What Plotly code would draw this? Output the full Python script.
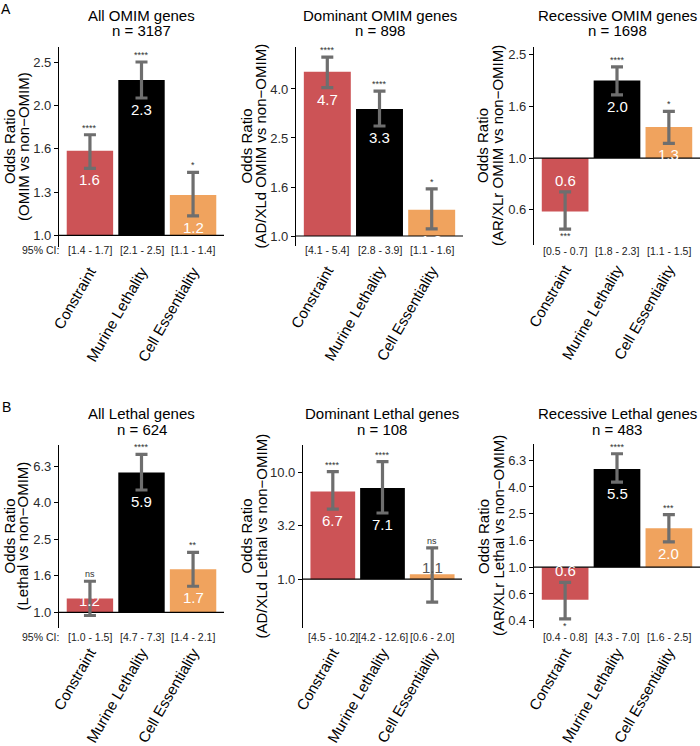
import math
import plotly.graph_objects as go

# categories shared by every panel
categories = ["Constraint", "Murine Lethality", "Cell Essentiality"]
bar_colors = ["#CC5356", "#000000", "#F0A35E"]

# panel A: OMIM genes
a1_title = ["All OMIM genes", "n = 3187"]
a1_ytitle = ["Odds Ratio", "(OMIM vs non\u2212OMIM)"]
a1_or = [1.57, 2.29, 1.24]
a1_lo = [1.43, 2.08, 1.11]
a1_hi = [1.71, 2.52, 1.40]
a1_lab = ["1.6", "2.3", "1.2"]
a1_sig = ["****", "****", "*"]
a1_ci = ["[1.4 - 1.7]", "[2.1 - 2.5]", "[1.1 - 1.4]"]
a1_tickvals = [1.0, 1.26, 1.587, 2.0, 2.52]
a1_ticktext = ["1.0", "1.3", "1.6", "2.0", "2.5"]

a2_title = ["Dominant OMIM genes", "n = 898"]
a2_ytitle = ["Odds Ratio", "(AD/XLd OMIM vs non\u2212OMIM)"]
a2_or = [4.70, 3.31, 1.28]
a2_lo = [4.05, 2.82, 1.07]
a2_hi = [5.40, 3.92, 1.56]
a2_lab = ["4.7", "3.3", "1.3"]
a2_sig = ["****", "****", "*"]
a2_ci = ["[4.1 - 5.4]", "[2.8 - 3.9]", "[1.1 - 1.6]"]
a2_tickvals = [1.0, 1.587, 2.52, 4.0]
a2_ticktext = ["1.0", "1.6", "2.5", "4.0"]

a3_title = ["Recessive OMIM genes", "n = 1698"]
a3_ytitle = ["Odds Ratio", "(AR/XLr OMIM vs non\u2212OMIM)"]
a3_or = [0.62, 2.00, 1.32]
a3_lo = [0.53, 1.76, 1.14]
a3_hi = [0.74, 2.26, 1.52]
a3_lab = ["0.6", "2.0", "1.3"]
a3_sig = ["***", "****", "*"]
a3_ci = ["[0.5 - 0.7]", "[1.8 - 2.3]", "[1.1 - 1.5]"]
a3_tickvals = [0.63, 1.0, 1.587, 2.52]
a3_ticktext = ["0.6", "1.0", "1.6", "2.5"]

# panel B: lethal genes
b1_title = ["All Lethal genes", "n = 624"]
b1_ytitle = ["Odds Ratio", "(Lethal vs non\u2212OMIM)"]
b1_or = [1.19, 5.85, 1.72]
b1_lo = [0.96, 4.69, 1.39]
b1_hi = [1.48, 7.35, 2.13]
b1_lab = ["1.2", "5.9", "1.7"]
b1_sig = ["ns", "****", "**"]
b1_ci = ["[1.0 - 1.5]", "[4.7 - 7.3]", "[1.4 - 2.1]"]
b1_tickvals = [1.0, 1.587, 2.52, 4.0, 6.35]
b1_ticktext = ["1.0", "1.6", "2.5", "4.0", "6.3"]

b2_title = ["Dominant Lethal genes", "n = 108"]
b2_ytitle = ["Odds Ratio", "(AD/XLd Lethal vs non\u2212OMIM)"]
b2_or = [6.6, 7.1, 1.11]
b2_lo = [4.5, 4.15, 0.61]
b2_hi = [10.1, 12.5, 1.96]
b2_lab = ["6.7", "7.1", "1.1"]
b2_sig = ["****", "****", "ns"]
b2_ci = ["[4.5 - 10.2]", "[4.2 - 12.6]", "[0.6 - 2.0]"]
b2_tickvals = [1.0, 3.162, 10.0]
b2_ticktext = ["1.0", "3.2", "10.0"]

b3_title = ["Recessive Lethal genes", "n = 483"]
b3_ytitle = ["Odds Ratio", "(AR/XLr Lethal vs non\u2212OMIM)"]
b3_or = [0.57, 5.45, 1.96]
b3_lo = [0.41, 4.35, 1.55]
b3_hi = [0.77, 7.10, 2.48]
b3_lab = ["0.6", "5.5", "2.0"]
b3_sig = ["*", "****", "***"]
b3_ci = ["[0.4 - 0.8]", "[4.3 - 7.0]", "[1.6 - 2.5]"]
b3_tickvals = [0.397, 0.63, 1.0, 1.587, 2.52, 4.0, 6.35]
b3_ticktext = ["0.4", "0.6", "1.0", "1.6", "2.5", "4.0", "6.3"]

W, H = 700, 746
FONT = "Liberation Sans"

# pixel boxes (left, right, top, bottom), y range, title/ytitle positions
panels = [
    dict(title=a1_title, yt=a1_ytitle, orr=a1_or, lo=a1_lo, hi=a1_hi, lab=a1_lab, sig=a1_sig, ci=a1_ci,
         tv=a1_tickvals, tt=a1_ticktext, box=(59, 224, 47, 247), yr=(0.94, 2.73),
         ty=(15, 30), ytx=(9, 23), ciy=250, cilabel=True),
    dict(title=a2_title, yt=a2_ytitle, orr=a2_or, lo=a2_lo, hi=a2_hi, lab=a2_lab, sig=a2_sig, ci=a2_ci,
         tv=a2_tickvals, tt=a2_ticktext, box=(296, 463, 47, 246), yr=(0.91, 5.94),
         ty=(15, 30), ytx=(246, 260), ciy=250, cilabel=False),
    dict(title=a3_title, yt=a3_ytitle, orr=a3_or, lo=a3_lo, hi=a3_hi, lab=a3_lab, sig=a3_sig, ci=a3_ci,
         tv=a3_tickvals, tt=a3_ticktext, box=(534, 700, 47, 245), yr=(0.46, 2.7),
         ty=(15, 30), ytx=(482, 497), ciy=251, cilabel=False),
    dict(title=b1_title, yt=b1_ytitle, orr=b1_or, lo=b1_lo, hi=b1_hi, lab=b1_lab, sig=b1_sig, ci=b1_ci,
         tv=b1_tickvals, tt=b1_ticktext, box=(59, 224, 445, 628), yr=(0.82, 8.28),
         ty=(413, 429), ytx=(9, 22), ciy=637, cilabel=True),
    dict(title=b2_title, yt=b2_ytitle, orr=b2_or, lo=b2_lo, hi=b2_hi, lab=b2_lab, sig=b2_sig, ci=b2_ci,
         tv=b2_tickvals, tt=b2_ticktext, box=(303, 462, 445, 628), yr=(0.35, 17.9),
         ty=(413, 429), ytx=(246, 261), ciy=637, cilabel=False),
    dict(title=b3_title, yt=b3_ytitle, orr=b3_or, lo=b3_lo, hi=b3_hi, lab=b3_lab, sig=b3_sig, ci=b3_ci,
         tv=b3_tickvals, tt=b3_ticktext, box=(534, 700, 444, 628), yr=(0.35, 8.4),
         ty=(413, 429), ytx=(483, 498), ciy=637, cilabel=False),
]

xpos = [0, 1, 2]
fig = go.Figure()
annotations = []
layout = dict(width=W, height=H, margin=dict(l=0, r=0, t=0, b=0, autoexpand=False),
              plot_bgcolor="white", paper_bgcolor="white",
              font=dict(family=FONT, color="black"), showlegend=False, bargap=0.1)


def px(x):
    return x / W


def py(y):
    return 1 - y / H


for i, p in enumerate(panels, start=1):
    xa, ya = f"x{i}", f"y{i}"
    l, r, t, b = p["box"]
    # bars drawn from 1.0 on a log axis
    fig.add_trace(go.Bar(x=xpos, y=[v - 1 for v in p["orr"]], base=[1] * 3,
                         marker=dict(color=bar_colors, line=dict(width=0)),
                         width=0.9, xaxis=xa, yaxis=ya, hoverinfo="skip"))
    # reference line at OR = 1
    fig.add_trace(go.Scatter(x=[-0.6, 2.6], y=[1, 1], mode="lines",
                             line=dict(color="black", width=1.2),
                             xaxis=xa, yaxis=ya, hoverinfo="skip"))
    # confidence intervals
    fig.add_trace(go.Scatter(x=xpos, y=p["orr"], mode="markers",
                             marker=dict(size=1, opacity=0),
                             error_y=dict(type="data", symmetric=False,
                                          array=[h - o for h, o in zip(p["hi"], p["orr"])],
                                          arrayminus=[o - lo for o, lo in zip(p["orr"], p["lo"])],
                                          color="#6e6e6e", thickness=3.2, width=6),
                             xaxis=xa, yaxis=ya, hoverinfo="skip"))

    sfx = "" if i == 1 else str(i)
    layout["xaxis" + sfx] = dict(domain=[px(l), px(r)], anchor=ya, range=[-0.6, 2.6],
                                 tickvals=xpos, ticktext=categories, tickangle=-60,
                                 tickfont=dict(size=15, color="black"), ticks="",
                                 showline=False, showgrid=False, zeroline=False,
                                 ticklabelstandoff=12, automargin=False, fixedrange=True)
    layout["yaxis" + sfx] = dict(domain=[py(b), py(t)], anchor=xa, type="log",
                                 range=[math.log10(p["yr"][0]), math.log10(p["yr"][1])],
                                 tickvals=p["tv"], ticktext=p["tt"],
                                 tickfont=dict(size=13, color="#2b2b2b"),
                                 ticks="outside", ticklen=4, tickcolor="black",
                                 showline=True, linecolor="black", linewidth=1.2,
                                 showgrid=False, zeroline=False, automargin=False,
                                 fixedrange=True)

    cx = (l + r) / 2
    for line, yy in zip(p["title"], p["ty"]):
        annotations.append(dict(text=line, xref="paper", yref="paper", x=px(cx), y=py(yy),
                                xanchor="center", yanchor="middle", showarrow=False,
                                font=dict(size=15)))
    for line, xx in zip(p["yt"], p["ytx"]):
        annotations.append(dict(text=line, xref="paper", yref="paper", x=px(xx), y=py((t + b) / 2),
                                xanchor="center", yanchor="middle", showarrow=False,
                                textangle=-90, font=dict(size=15)))
    for k in range(3):
        o, lo, hi = p["orr"][k], p["lo"][k], p["hi"][k]
        # value labels
        if o >= 1 and lo > 1:
            ly, anc, sh = lo, "top", -1
        elif o >= 1:
            ly, anc, sh = 1, "bottom", 1
        else:
            ly, anc, sh = hi, "bottom", 1
        lab_color = "white" if abs(o - 1) > 0.15 else "#555555"
        annotations.append(dict(text=p["lab"][k], xref=xa, yref=ya, x=k, y=math.log10(ly),
                                xanchor="center", yanchor=anc, yshift=sh, showarrow=False,
                                font=dict(size=15, color=lab_color)))
        # significance
        if o >= 1:
            sy, sanc = hi, "bottom"
        else:
            sy, sanc = lo, "top"
        annotations.append(dict(text=p["sig"][k], xref=xa, yref=ya, x=k, y=math.log10(sy),
                                xanchor="center", yanchor=sanc, showarrow=False,
                                font=dict(size=9, color="#333333")))
        # CI text
        annotations.append(dict(text=p["ci"][k], xref=xa, yref="paper", x=k, y=py(p["ciy"]),
                                xanchor="center", yanchor="middle", showarrow=False,
                                font=dict(size=10.5, color="#222222")))
    if p["cilabel"]:
        annotations.append(dict(text="95% CI:", xref="paper", yref="paper", x=px(40), y=py(p["ciy"]),
                                xanchor="center", yanchor="middle", showarrow=False,
                                font=dict(size=10.5, color="#222222")))

annotations.append(dict(text="A", xref="paper", yref="paper", x=px(6), y=py(9),
                        xanchor="center", yanchor="middle", showarrow=False, font=dict(size=14)))
annotations.append(dict(text="B", xref="paper", yref="paper", x=px(6), y=py(407),
                        xanchor="center", yanchor="middle", showarrow=False, font=dict(size=14)))

layout["annotations"] = annotations
fig.update_layout(**layout)
fig.write_html("out.html", config={"displayModeBar": False},
               post_script="document.body.style.margin='0px';")
